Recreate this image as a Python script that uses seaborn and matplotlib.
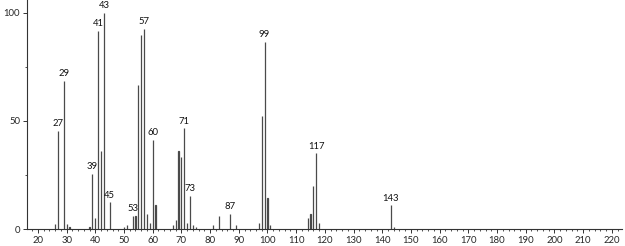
import matplotlib
matplotlib.use("Agg")
import matplotlib.pyplot as plt
import seaborn as sns
import pandas as pd
from matplotlib.ticker import MultipleLocator

mz = [26, 27, 29, 30, 31, 38, 39, 40, 41, 42, 43, 45, 50, 51, 53, 54, 55, 56, 57, 58, 59, 60, 61,
      67, 68, 69, 70, 71, 72, 73, 74, 75, 81, 83, 87, 89, 97, 98, 99, 100, 101,
      114, 115, 116, 117, 118, 143, 144]
intensity = [2.2, 45.4, 68.5, 2.2, 1.0, 1.0, 25.5, 5.1, 91.7, 36.3, 100.0, 12.3, 1.0, 2.0, 6.0, 6.0, 66.7, 90.0, 92.7, 7.0, 3.0, 41.2, 11.3,
             1.8, 4.0, 36.3, 33.5, 46.6, 3.0, 15.3, 2.0, 1.0, 2.0, 6.0, 7.0, 2.0, 3.0, 52.3, 86.7, 14.3, 2.0,
             5.0, 7.0, 20.0, 35.0, 2.8, 11.0, 1.0]
labeled = [27, 29, 39, 41, 43, 45, 53, 57, 60, 71, 73, 87, 99, 117, 143]

df = pd.DataFrame({"mz": mz, "intensity": intensity})

sns.set_style("ticks")
plt.rcParams["font.family"] = ["Lato", "DejaVu Sans"]

fig = plt.figure(figsize=(6.25, 2.46), dpi=100)
ax = fig.add_axes([0.0432, 0.069, 0.9518, 0.931])

bar_color = "#4a4a4a"
sns.barplot(data=df, x="mz", y="intensity", native_scale=True, width=0.05,
            color=bar_color, saturation=1, edgecolor=bar_color, linewidth=0.9, ax=ax)

lookup = dict(zip(mz, intensity))
for m in labeled:
    ax.text(m, lookup[m] + 1.2, str(m), ha="center", va="bottom", fontsize=6.8, color="#111111")

ax.set_xlim(16.2, 223.5)
ax.set_ylim(0, 106)
ax.set_xticks(range(20, 221, 10))
ax.xaxis.set_minor_locator(MultipleLocator(2))
ax.set_yticks([0, 50, 100])
ax.yaxis.set_minor_locator(MultipleLocator(25))
ax.tick_params(axis="both", which="major", labelsize=6.8, length=3, width=0.7, color="#333333", pad=2)
ax.tick_params(axis="both", which="minor", length=1.5, width=0.6, color="#333333")
ax.set_xlabel("")
ax.set_ylabel("")
sns.despine(ax=ax)
for s in ("left", "bottom"):
    ax.spines[s].set_linewidth(0.8)
    ax.spines[s].set_color("#333333")

fig.savefig("out.png", dpi=100)
